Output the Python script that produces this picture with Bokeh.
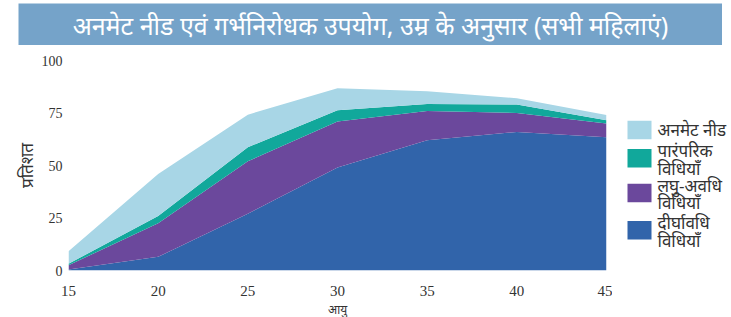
from bokeh.plotting import figure
from bokeh.layouts import column, row
from bokeh.models import ColumnDataSource, Range1d, FixedTicker, Title
from bokeh.core.properties import value
from bokeh.embed import file_html
from bokeh.resources import INLINE

# ---- data ----
ages = [15, 20, 25, 30, 35, 40, 45]
long_acting = [0.5, 6.5, 27, 49, 62, 66, 63.5]
short_acting = [2, 16, 25, 22, 14, 9, 6.5]
traditional = [0.7, 3.5, 6.7, 5.3, 3.3, 4, 1.5]
unmet_need = [6, 20, 15.5, 10.5, 6, 3, 2.5]

series_names = ["long", "short", "trad", "unmet"]
series_colors = ["#3164aa", "#6b489c", "#11a89b", "#a8d6e6"]
legend_labels = ["अनमेट नीड", "पारंपरिक\nविधियाँ", "लघु-अवधि\nविधियाँ", "दीर्घावधि\nविधियाँ"]
legend_colors = ["#a8d6e6", "#11a89b", "#6b489c", "#3164aa"]

x_ticks = [15, 20, 25, 30, 35, 40, 45]
y_ticks = [0, 25, 50, 75, 100]

title_text = "अनमेट नीड एवं गर्भनिरोधक उपयोग, उम्र के अनुसार (सभी महिलाएं)"
y_label = "प्रतिशत"
x_label = "आयु"

DEV_FONT = "Noto Sans"
NUM_FONT = "Liberation Sans Narrow"
BANNER = "#75a3c9"
TXT = "#333333"

# ---- title banner ----
tf = figure(width=704, height=42, x_range=Range1d(0, 1), y_range=Range1d(0, 1),
            output_backend="svg", toolbar_location=None, min_border=0,
            background_fill_color=BANNER, border_fill_color=BANNER,
            margin=(3, 0, 0, 18))
tf.axis.visible = False
tf.grid.visible = False
tf.outline_line_color = None
tf.text(x=[0.5], y=[0.5], text=[title_text], text_align="center", text_baseline="middle",
        text_color="white", text_font_size="25px", text_font=value(DEV_FONT))

# ---- main chart ----
src = ColumnDataSource(dict(age=ages, long=long_acting, short=short_acting,
                            trad=traditional, unmet=unmet_need))
p = figure(width=612, height=272, x_range=Range1d(15, 45), y_range=Range1d(0, 100),
           output_backend="svg", toolbar_location=None,
           min_border_left=68, min_border_right=6, min_border_top=15, min_border_bottom=44)
p.varea_stack(stackers=series_names, x="age", color=series_colors, source=src)
p.outline_line_color = None
p.grid.visible = False
p.background_fill_color = "white"

p.xaxis.ticker = FixedTicker(ticks=x_ticks)
p.yaxis.ticker = FixedTicker(ticks=y_ticks)
for ax in (p.xaxis[0], p.yaxis[0]):
    ax.axis_line_color = None
    ax.major_tick_line_color = None
    ax.minor_tick_line_color = None
    ax.major_tick_out = 0
    ax.major_tick_in = 0
    ax.minor_tick_out = 0
    ax.minor_tick_in = 0
    ax.major_label_text_color = TXT
    ax.major_label_text_font = NUM_FONT
p.xaxis.major_label_text_font_size = "15px"
p.yaxis.major_label_text_font_size = "14px"
p.xaxis.major_label_standoff = 15
p.yaxis.major_label_standoff = 6

# axis titles as side titles (allow an offset like the reference)
p.add_layout(Title(text=x_label, align="center", offset=13, standoff=0,
                   text_font=DEV_FONT, text_font_size="12px", text_font_style="normal",
                   text_color=TXT), "below")
p.add_layout(Title(text=y_label, align="center", offset=17, standoff=2,
                   text_font=DEV_FONT, text_font_size="17px", text_font_style="normal",
                   text_color=TXT), "left")

# ---- legend panel ----
lf = figure(width=119, height=272, x_range=Range1d(0, 119), y_range=Range1d(272, 0),
            output_backend="svg", toolbar_location=None, min_border=0)
lf.axis.visible = False
lf.grid.visible = False
lf.outline_line_color = None
centers = [90, 126.5, 171.5, 220]
lf.rect(x=[27] * 4, y=centers, width=24, height=24, fill_color=legend_colors, line_color=None)
tx, ty, tt = [], [], []
for c, lab in zip(centers, legend_labels):
    lines = lab.split("\n")
    offs = [0] if len(lines) == 1 else [-10, 13]
    for o, ln in zip(offs, lines):
        tx.append(45)
        ty.append(c + o)
        tt.append(ln)
lf.text(x=tx, y=ty, text=tt, text_align="left", text_baseline="middle",
        text_color=TXT, text_font_size="17px", text_font=value(DEV_FONT))

layout = column(tf, row(p, lf, spacing=0), spacing=0)
open("out.html", "w").write(file_html(layout, INLINE))
